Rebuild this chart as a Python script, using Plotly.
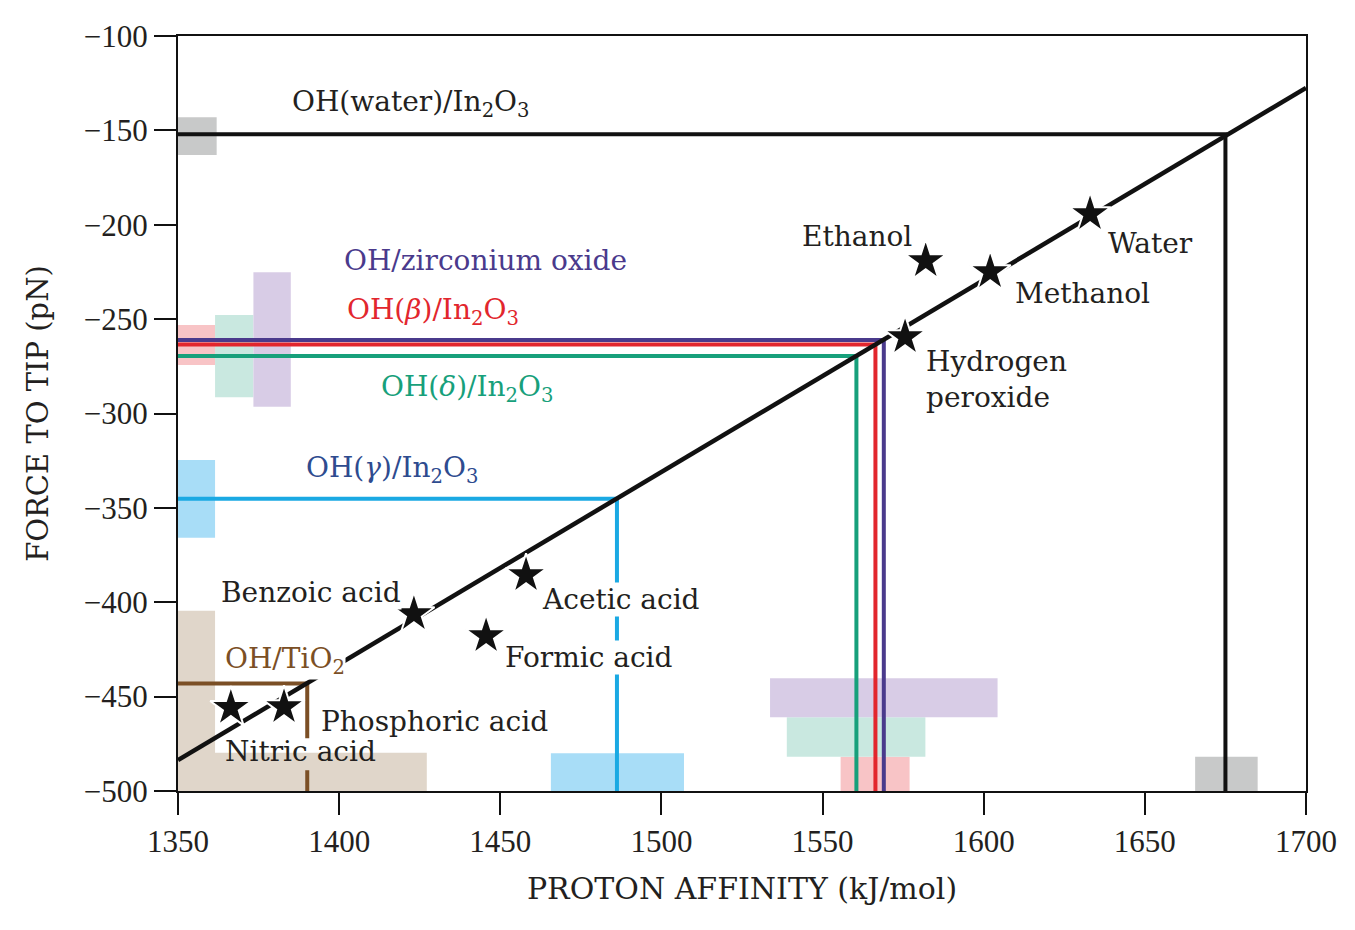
import plotly.graph_objects as go

# correlation line (force vs proton affinity)
fit_pa = [1350, 1700]
fit_force = [-483.6, -127.5]

# molecules (stars)
mol_names = ["Water", "Methanol", "Ethanol", "Hydrogen<br>peroxide", "Acetic acid",
             "Benzoic acid", "Formic acid", "Phosphoric acid", "Nitric acid"]
mol_pa = [1633, 1602, 1582, 1575.6, 1458, 1423.2, 1445.6, 1382.9, 1366.4]
mol_force = [-194.3, -225, -219.2, -259.5, -385.6, -406.2, -417.9, -455.5, -455.9]
mol_lab_x = [1651.6, 1630.8, 1560.7, 1581.8, 1487.5, 1391.3, 1477.5, 1429.7, 1387.9]
mol_lab_y = [-209.7, -236.2, -206.0, -281.8, -398.8, -394.6, -429.5, -463.4, -479.3]
mol_lab_bg = [True, True, True, True, True, True, True, True, False]

# surface OH groups: measured force -> read-off proton affinity
oh_names = ["OH(water)/In<sub>2</sub>O<sub>3</sub>", "OH/zirconium oxide",
            "OH(<i>β</i>)/In<sub>2</sub>O<sub>3</sub>", "OH(<i>δ</i>)/In<sub>2</sub>O<sub>3</sub>",
            "OH(<i>γ</i>)/In<sub>2</sub>O<sub>3</sub>", "OH/TiO<sub>2</sub>"]
oh_force = [-152, -261.1, -263.4, -269.5, -345.1, -443]
oh_pa = [1675, 1569.0, 1566.4, 1560.5, 1486.2, 1390.1]
oh_line_col = ["#111111", "#4a3a8c", "#e2262d", "#17a07b", "#1aa9e3", "#7b4f25"]
oh_text_col = ["#231f20", "#4a3a8c", "#e2262d", "#17a07b", "#2e4b8f", "#7b4f25"]
oh_lab_x = [1422.3, 1445.3, 1429.1, 1439.7, 1416.4, 1383.2]
oh_lab_y = [-136.0, -219.2, -246.2, -286.5, -329.9, -430.6]
# the TiO2 drop line is interrupted where the "Nitric acid" label sits
tio2_gap = (-472, -489)

# uncertainty bands: force bands on the left, affinity bands at the bottom
force_band_x = [(1350, 1362), (1350, 1361.5), (1361.5, 1373.4), (1373.4, 1385),
                (1350, 1361.5), (1350, 1361.5)]
force_band_y = [(-143, -163), (-253.1, -274.3), (-247.8, -291.4), (-225.2, -296.4),
                (-324.6, -365.8), (-404.5, -500)]
pa_band_x = [(1665.6, 1685), (1555.6, 1577), (1538.9, 1581.9), (1533.7, 1604.3),
             (1465.7, 1507), (1353.7, 1427.2)]
pa_band_y = [(-481.9, -500), (-481.9, -500), (-460.9, -481.9), (-440.2, -460.9),
             (-480, -500), (-479.7, -500)]
band_col = ["#c8c9c9", "#f8c4c6", "#c9e8e0", "#d8cce6", "#a8ddf7", "#e0d6ca"]

x_ticks = [1350, 1400, 1450, 1500, 1550, 1600, 1650, 1700]
y_ticks = [-500, -450, -400, -350, -300, -250, -200, -150, -100]

text_col = "#231f20"
serif = "DejaVu Serif"

fig = go.Figure()

shapes = []
for (x0, x1), (y0, y1), c in zip(force_band_x + pa_band_x, force_band_y + pa_band_y,
                                  band_col + band_col):
    shapes.append(dict(type="rect", xref="x", yref="y", x0=x0, x1=x1, y0=y0, y1=y1,
                       fillcolor=c, line=dict(width=0), layer="below"))

# reference lines: horizontal from axis to fit line, then down to the x axis
for name, f, p, c in zip(oh_names, oh_force, oh_pa, oh_line_col):
    if "TiO" in name:
        xs = [1350, p, p, None, p, p]
        ys = [f, f, tio2_gap[0], None, tio2_gap[1], -500]
    else:
        xs = [1350, p, p]
        ys = [f, f, -500]
    fig.add_trace(go.Scatter(x=xs, y=ys, mode="lines", connectgaps=False,
                             line=dict(color=c, width=4), hoverinfo="skip"))

fig.add_trace(go.Scatter(x=fit_pa, y=fit_force, mode="lines",
                         line=dict(color="#111111", width=4.5), hoverinfo="skip"))

fig.add_trace(go.Scatter(x=mol_pa, y=mol_force, mode="markers",
                         marker=dict(symbol="star", size=31, color="#111111",
                                     line=dict(color="white", width=2)),
                         hoverinfo="skip"))

annotations = []
for name, x, y, c in zip(oh_names, oh_lab_x, oh_lab_y, oh_text_col):
    annotations.append(dict(x=x, y=y, xref="x", yref="y", text=name, showarrow=False,
                            font=dict(family=serif, size=28, color=c),
                            bgcolor="white" if "TiO" in name else None, borderpad=0))
for name, x, y, bg in zip(mol_names, mol_lab_x, mol_lab_y, mol_lab_bg):
    left = name.startswith("Hydrogen")
    annotations.append(dict(x=x, y=y, xref="x", yref="y", text=name, showarrow=False,
                            xanchor="left" if left else "center", align="left",
                            font=dict(family=serif, size=28, color=text_col),
                            bgcolor="white" if bg else None, borderpad=0))

axis_common = dict(showline=True, linecolor="#111111", linewidth=2, mirror=True,
                   ticks="outside", ticklen=22, tickwidth=2, tickcolor="#111111",
                   showgrid=False, zeroline=False,
                   tickfont=dict(family="Liberation Serif", size=31, color=text_col))

# page body adds an 8px margin, so the figure is sized to fit the window
fig.update_layout(
    width=1347, height=922,
    margin=dict(l=170, r=49, t=28, b=139),
    plot_bgcolor="white", paper_bgcolor="white",
    showlegend=False,
    shapes=shapes,
    annotations=annotations,
    xaxis=dict(range=[1350, 1700], tickvals=x_ticks, **axis_common,
               title=dict(text="PROTON AFFINITY (kJ/mol)", standoff=20,
                          font=dict(family=serif, size=30, color=text_col))),
    yaxis=dict(range=[-500, -100], tickvals=y_ticks, **axis_common,
               title=dict(text="FORCE TO TIP (pN)", standoff=27,
                          font=dict(family=serif, size=29, color=text_col))),
)

fig.write_html("out.html")
